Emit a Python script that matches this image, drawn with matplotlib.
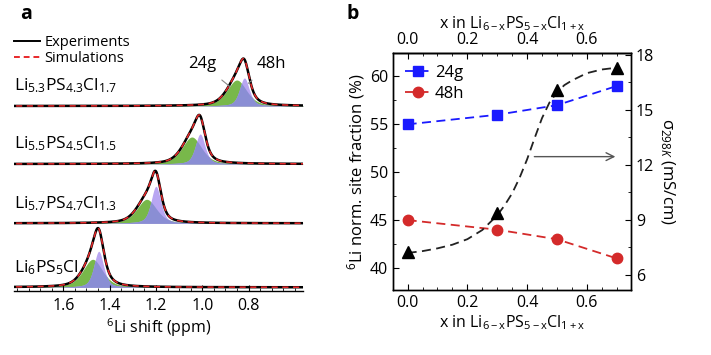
import numpy as np
import matplotlib
matplotlib.use("Agg")
import matplotlib.pyplot as plt
from matplotlib.ticker import MultipleLocator

plt.rcParams['font.family'] = ['Open Sans', 'DejaVu Sans']
plt.rcParams['mathtext.fontset'] = 'custom'
plt.rcParams['mathtext.rm'] = 'Open Sans'
plt.rcParams['mathtext.it'] = 'Open Sans:italic'
plt.rcParams['axes.linewidth'] = 1.0

# ---- panel a: fitted 6Li peaks (centre ppm, height, fwhm ppm) ----
samples = ["Li$_{5.3}$PS$_{4.3}$Cl$_{1.7}$", "Li$_{5.5}$PS$_{4.5}$Cl$_{1.5}$",
           "Li$_{5.7}$PS$_{4.7}$Cl$_{1.3}$", "Li$_{6}$PS$_{5}$Cl"]
g24_center = [0.851, 1.045, 1.240, 1.473]
g24_height = [26, 27, 24, 28]
g24_fwhm = [0.10, 0.10, 0.10, 0.10]
h48_center = [0.818, 1.009, 1.200, 1.447]
h48_height = [28, 30, 37, 36]
h48_fwhm = [0.05, 0.05, 0.05, 0.05]

# ---- panel b ----
x_comp = [0.0, 0.3, 0.5, 0.7]
frac_24g = [55, 56, 57, 59]
frac_48h = [45, 44, 43, 41]
sigma = [7.27, 9.37, 16.1, 17.27]
# dashed guide curve
fit_x = [0.0, 0.05, 0.1, 0.15, 0.2, 0.25, 0.3, 0.325, 0.35, 0.375, 0.4, 0.425, 0.45,
         0.475, 0.5, 0.525, 0.55, 0.6, 0.65, 0.7]
fit_s = [7.2, 7.3, 7.45, 7.65, 7.95, 8.45, 9.25, 9.8, 10.45, 11.3, 12.3, 13.45, 14.55,
         15.4, 15.95, 16.35, 16.6, 17.0, 17.2, 17.3]

fig = plt.figure(figsize=(7.11, 3.55), dpi=100)

# panel a
axa = fig.add_axes([14/711, 1-290.7/355, 289/711, 290.7/355])
ppm = np.linspace(1.85, 0.5, 1200)
offsets = [184.7, 126.7, 67.4, 3.4]


def peak(c, h, w):
    # pseudo-Voigt line shape
    lor = 1 / (1 + ((ppm - c) / (w / 2)) ** 2)
    gau = np.exp(-np.log(2) * ((ppm - c) / (w / 2)) ** 2)
    return h * (0.5 * lor + 0.5 * gau)


for i in range(4):
    base = offsets[i]
    g = peak(g24_center[i], g24_height[i], g24_fwhm[i])
    p = peak(h48_center[i], h48_height[i], h48_fwhm[i])
    low = np.minimum(g, p)
    axa.fill_between(ppm, base, base + g, color='#78b84a', lw=0)
    axa.fill_between(ppm, base, base + p, color='#b8a6f2', lw=0)
    axa.fill_between(ppm, base, base + low, color='#8a8ed4', lw=0)
    tot = g + p
    axa.plot(ppm, base + tot, color='black', lw=1.8)
    axa.plot(ppm, base + tot, color='#e8282a', lw=1.1, ls=(0, (4, 3)))
    axa.text(1.813, base + 20, samples[i], fontsize=12.5, ha='left', va='center')

axa.set_xlim(1.813, 0.565)
axa.set_ylim(0, 290.7)
axa.set_yticks([])
for s in ['left', 'right', 'top']:
    axa.spines[s].set_visible(False)
axa.xaxis.set_minor_locator(MultipleLocator(0.05))
axa.set_xticks([1.6, 1.4, 1.2, 1.0, 0.8])
axa.set_xticklabels(['1.6', '1.4', '1.2', '1.0', '0.8'])
axa.tick_params(axis='x', direction='in', length=4, labelsize=11.5, pad=5)
axa.tick_params(axis='x', which='minor', direction='in', length=2.5)
axa.set_xlabel('$^6$Li shift (ppm)', fontsize=11.5, labelpad=2)

axa.plot([], [], color='black', lw=1.4, label='Experiments')
axa.plot([], [], color='#e8282a', lw=1.4, ls=(0, (3, 2)), label='Simulations')
axa.legend(loc='upper left', bbox_to_anchor=(-0.02, 0.90), frameon=False, fontsize=10.5,
           handlelength=1.8, handletextpad=0.3, labelspacing=0.1, borderaxespad=0)

axa.annotate('24g', xy=(0.880, 204), xytext=(1.001, 226.7), fontsize=12,
             ha='center', va='center',
             arrowprops=dict(arrowstyle='-', color='#888888', lw=0.8, shrinkA=6, shrinkB=0))
axa.annotate('48h', xy=(0.801, 207.4), xytext=(0.703, 226.7), fontsize=12,
             ha='center', va='center',
             arrowprops=dict(arrowstyle='-', color='#888888', lw=0.8, shrinkA=6, shrinkB=0))
fig.text(20/711, 1-14/355, 'a', fontsize=14, fontweight='bold', ha='left', va='center')

# panel b
axb = fig.add_axes([393/711, 1-290/355, 238/711, 237/355])
axb.plot(x_comp, frac_24g, color='#1a1aff', ls=(0, (5, 3)), lw=1.3, marker='s', ms=6.5,
         label='24g')
axb.plot(x_comp, frac_48h, color='#d42a2a', ls=(0, (5, 3)), lw=1.3, marker='o', ms=7.5,
         label='48h')
axb.set_xlim(-0.049, 0.748)
axb.set_ylim(37.7, 62.45)
axb.yaxis.set_major_locator(MultipleLocator(5))
axb.yaxis.set_minor_locator(MultipleLocator(2.5))
axb.xaxis.set_major_locator(MultipleLocator(0.2))
axb.xaxis.set_minor_locator(MultipleLocator(0.05))
axb.tick_params(direction='in', length=4, labelsize=11.5)
axb.tick_params(which='minor', direction='in', length=2.5)
axb.set_ylabel('$^6$Li norm. site fraction (%)', fontsize=12, labelpad=2)
xl = 'x in Li$_{\\mathrm{6-x}}$PS$_{\\mathrm{5-x}}$Cl$_{\\mathrm{1+x}}$'
axb.set_xlabel(xl, fontsize=11.5, labelpad=2)
axb.legend(loc='upper left', frameon=False, fontsize=12, handlelength=1.6,
           handletextpad=0.2, labelspacing=0.3, borderaxespad=0.3)

axt = axb.secondary_xaxis('top')
axt.xaxis.set_major_locator(MultipleLocator(0.2))
axt.xaxis.set_minor_locator(MultipleLocator(0.05))
axt.tick_params(direction='in', length=4, labelsize=11.5)
axt.tick_params(which='minor', direction='in', length=2.5)
axt.set_xlabel(xl, fontsize=11.5, labelpad=3)

axr = axb.twinx()
axr.plot(fit_x, fit_s, color='#222222', ls=(0, (5, 3)), lw=1.3)
axr.plot(x_comp, sigma, ls='none', marker='^', color='black', ms=8)
axr.set_ylim(5.18, 18.1)
axr.yaxis.set_major_locator(MultipleLocator(3))
axr.yaxis.set_minor_locator(MultipleLocator(1.5))
axr.tick_params(direction='in', length=4, labelsize=11.5)
axr.tick_params(which='minor', direction='in', length=2.5)
axr.set_ylabel('σ$_{298K}$ (mS/cm)', fontsize=12, rotation=270, labelpad=16)
axr.annotate('', xy=(0.705, 12.45), xytext=(0.415, 12.45),
             arrowprops=dict(arrowstyle='->', color='#555555', lw=1.0, mutation_scale=14))
fig.text(347/711, 1-14/355, 'b', fontsize=14, fontweight='bold', ha='left', va='center')

fig.savefig('out.png', dpi=100)
